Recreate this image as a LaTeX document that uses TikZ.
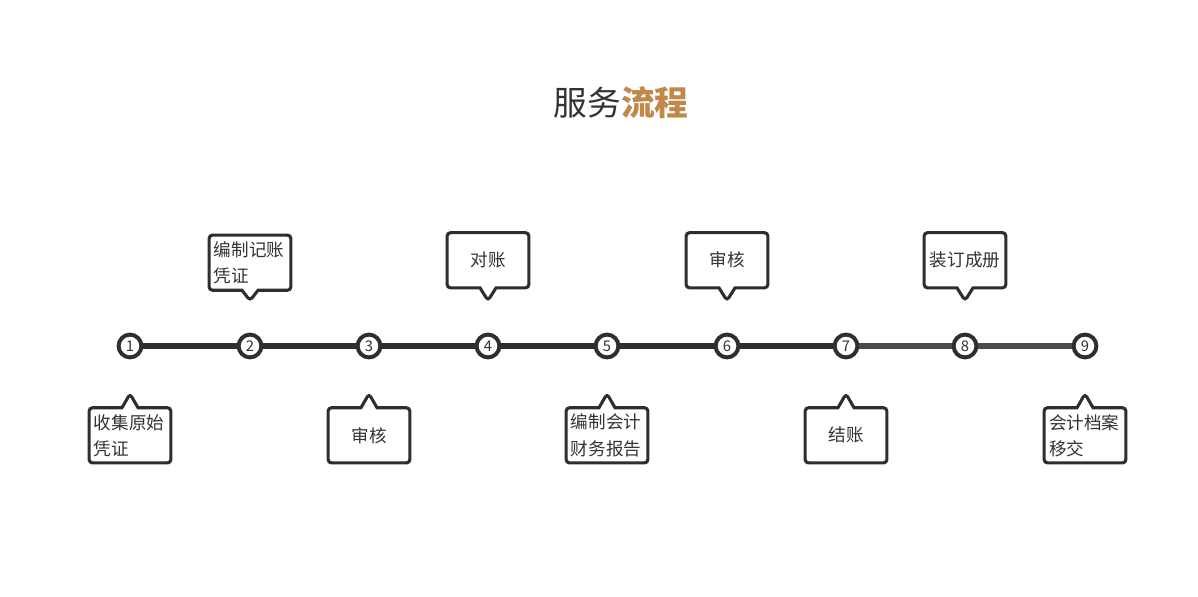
\documentclass[tikz,border=0pt]{standalone}
\usepackage{fontspec}
\setmainfont{Noto Sans CJK SC}
\usepackage{xcolor}
\usepackage{tikz}
\usetikzlibrary{shapes.callouts, positioning}
\definecolor{lndark}{RGB}{46,46,46}
\definecolor{lnmid}{RGB}{74,74,74}
\definecolor{txtgray}{RGB}{51,51,51}
\definecolor{lngold}{RGB}{192,137,74}

\begin{document}
\begin{tikzpicture}[x=0.025cm, y=-0.025cm,
  dot/.style={circle, draw=lndark, fill=white, line width=2.8pt, minimum size=0.57cm, inner sep=0pt, font=\fontsize{10.5}{10.5}\selectfont, text=txtgray},
  track/.style={draw=lndark, line width=4.6pt},
  note/.style={rectangle callout, draw=lndark, fill=white, line width=2.2pt, rounded corners=2.5pt, text width=1.8cm, inner xsep=3.5pt, minimum height=1.38cm, callout pointer width=0.4cm, font=\fontsize{12.5}{18.5}\selectfont, text=txtgray},
  noteup/.style={note, callout absolute pointer={(#1.north)}, callout pointer shorten=0.8cm},
  notedown/.style={note, callout absolute pointer={(#1.south)}, callout pointer shorten=0.86cm}
]
\useasboundingbox (0,0) rectangle (1198,597);
% title
\node[font=\fontsize{24}{28}\selectfont, text=txtgray] (title) at (621,103) {服务\textcolor{lngold}{\bfseries 流程}};
% steps
\node[dot] (c1) at (130,346) {1};
\node[dot] (c2) at (250,346) {2};
\node[dot] (c3) at (369,346) {3};
\node[dot] (c4) at (488,346) {4};
\node[dot] (c5) at (607,346) {5};
\node[dot] (c6) at (727,346) {6};
\node[dot] (c7) at (846,346) {7};
\node[dot] (c8) at (965,346) {8};
\node[dot] (c9) at (1085,346) {9};
\draw[track] (c1) -- (c2);
\draw[track] (c2) -- (c3);
\draw[track] (c3) -- (c4);
\draw[track] (c4) -- (c5);
\draw[track] (c5) -- (c6);
\draw[track] (c6) -- (c7);
\draw[track, draw=lnmid] (c7) -- (c8);
\draw[track, draw=lnmid] (c8) -- (c9);
% notes above
\node[noteup=c2, above=1.02cm of c2, align=left] (n2) {编制记账\\凭证};
\node[noteup=c4, above=1.08cm of c4, align=center] (n4) {对账};
\node[noteup=c6, above=1.08cm of c6, align=center] (n6) {审核};
\node[noteup=c8, above=1.08cm of c8, align=center] (n8) {装订成册};
% notes below
\node[notedown=c1, below=1.17cm of c1, align=left] (n1) {收集原始\\凭证};
\node[notedown=c3, below=1.17cm of c3, align=center] (n3) {审核};
\node[notedown=c5, below=1.17cm of c5, align=left] (n5) {编制会计\\财务报告};
\node[notedown=c7, below=1.17cm of c7, align=center] (n7) {结账};
\node[notedown=c9, below=1.17cm of c9, align=left] (n9) {会计档案\\移交};
\end{tikzpicture}
\end{document}
